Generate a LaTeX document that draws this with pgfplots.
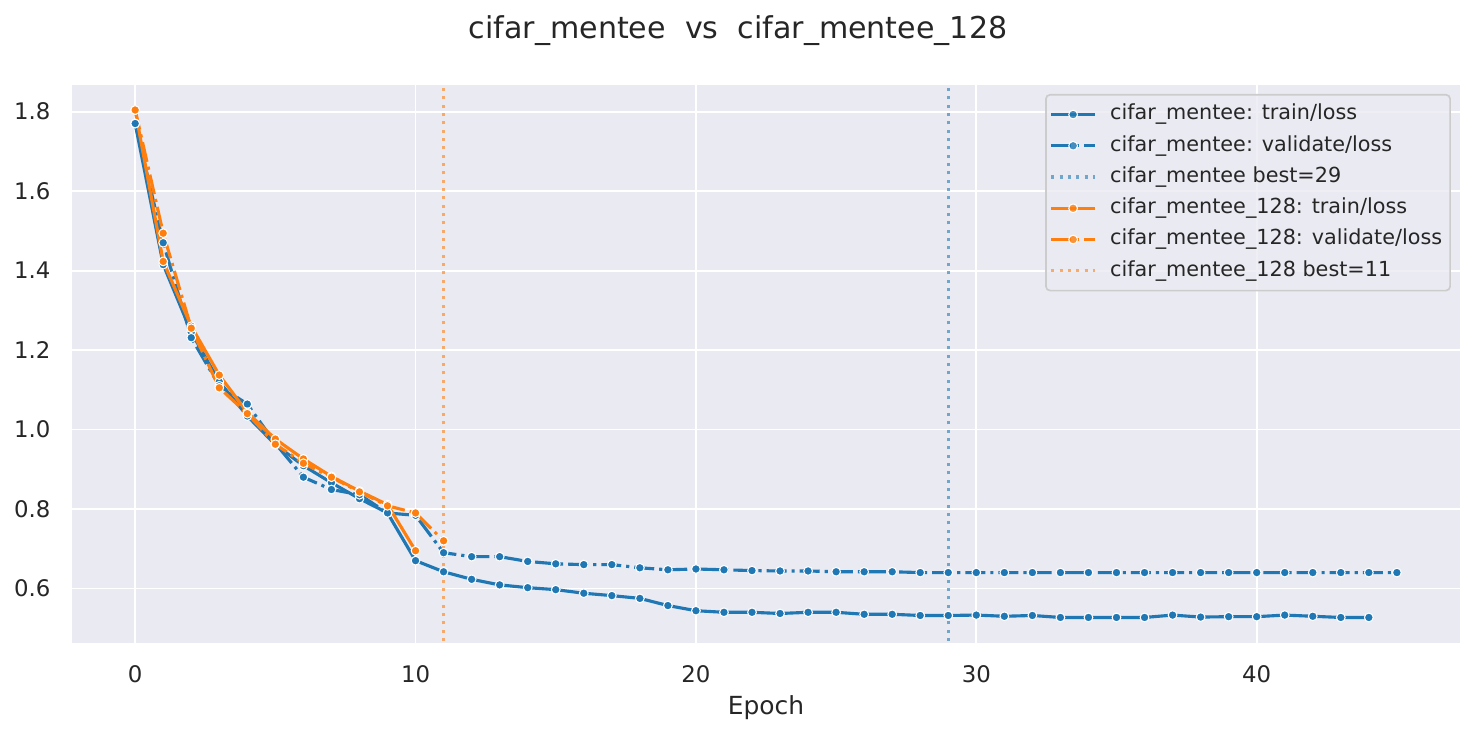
\documentclass[border=0pt]{standalone}
\usepackage{fontspec}
\setmainfont{DejaVu Sans}
\usepackage{pgfplots}
\pgfplotsset{compat=1.18}

\definecolor{sbblue}{HTML}{1F77B4}
\definecolor{sborange}{HTML}{FF7F0E}
\definecolor{sbbg}{HTML}{EAEAF2}
\definecolor{sbtext}{HTML}{262626}
\definecolor{sbedge}{HTML}{CCCCCC}

\pgfplotsset{
  loss/.style={color=#1, line width=1.5bp, mark=*, mark size=2.1bp,
    mark options={solid, draw=white, fill=#1, line width=0.5bp}},
  dashdot/.style={dash pattern=on 9.6bp off 2.4bp on 1.5bp off 2.4bp},
  best/.style={color=#1, line width=1.5bp, opacity=0.6, dash pattern=on 1.5bp off 2.5bp},
}

\pgfplotstableread{
epoch loss
0 1.770
1 1.415
2 1.245
3 1.120
4 1.034
5 0.962
6 0.909
7 0.866
8 0.826
9 0.790
10 0.670
11 0.642
12 0.623
13 0.609
14 0.602
15 0.597
16 0.588
17 0.582
18 0.575
19 0.557
20 0.544
21 0.540
22 0.540
23 0.537
24 0.540
25 0.540
26 0.535
27 0.535
28 0.532
29 0.532
30 0.533
31 0.530
32 0.532
33 0.527
34 0.527
35 0.527
36 0.527
37 0.533
38 0.528
39 0.529
40 0.529
41 0.533
42 0.530
43 0.527
44 0.527
}\menteetrain

\pgfplotstableread{
epoch loss
0 1.770
1 1.470
2 1.231
3 1.110
4 1.064
5 0.965
6 0.880
7 0.849
8 0.836
9 0.790
10 0.784
11 0.690
12 0.680
13 0.680
14 0.668
15 0.662
16 0.660
17 0.660
18 0.652
19 0.647
20 0.649
21 0.647
22 0.645
23 0.644
24 0.644
25 0.642
26 0.642
27 0.642
28 0.640
29 0.640
30 0.640
31 0.640
32 0.640
33 0.640
34 0.640
35 0.640
36 0.640
37 0.640
38 0.640
39 0.640
40 0.640
41 0.640
42 0.640
43 0.640
44 0.640
45 0.640
}\menteeval

\pgfplotstableread{
epoch loss
0 1.804
1 1.423
2 1.260
3 1.137
4 1.043
5 0.976
6 0.926
7 0.882
8 0.845
9 0.811
10 0.695
}\bigtrain

\pgfplotstableread{
epoch loss
0 1.804
1 1.494
2 1.255
3 1.105
4 1.040
5 0.963
6 0.915
7 0.880
8 0.843
9 0.808
10 0.790
11 0.720
}\bigval

\begin{document}
\begin{tikzpicture}
\begin{axis}[
    scale only axis,
    width=666.2bp, height=267.8bp,
    xmin=-2.25, xmax=47.25,
    ymin=0.463, ymax=1.867,
    xtick={0,10,20,30,40},
    ytick={0.6,0.8,1.0,1.2,1.4,1.6,1.8},
    y tick label style={/pgf/number format/fixed, /pgf/number format/fixed zerofill,
      /pgf/number format/precision=1},
    /pgf/number format/assume math mode=true,
    ticklabel style={font=\fontsize{11}{13}\selectfont, text=sbtext},
    xticklabel style={yshift=-7.4bp},
    yticklabel style={xshift=-6.9bp},
    major tick length=0pt,
    axis line style={draw=none},
    axis background/.style={fill=sbbg},
    grid=major,
    major grid style={white, line width=0.9bp},
    xlabel={Epoch},
    xlabel style={at={(axis description cs:0.5,0)}, anchor=north, yshift=-22bp,
      font=\fontsize{12}{14}\selectfont, text=sbtext},
    legend cell align=left,
    legend style={
      at={(0.9935,0.984)}, anchor=north east,
      draw=sbedge, line width=0.8bp, rounded corners=2bp,
      fill=sbbg, fill opacity=0.8, text opacity=1,
      font=\fontsize{10}{12}\selectfont, text=sbtext,
      inner xsep=1.8bp, inner ysep=2bp, row sep=0pt,
      nodes={inner ysep=2.5bp, text height=7.5bp, text depth=2.5bp},
    },
    legend image code/.code={
      \draw[mark repeat=2, mark phase=2] plot coordinates {(0bp,0bp) (10.5bp,0bp) (21bp,0bp)};
      \path (25.5bp,0bp);
    },
]
\addplot[loss=sbblue] table[x=epoch, y=loss] {\menteetrain};
\addlegendentry{cifar\_mentee: train/loss}
\addplot[loss=sbblue, dashdot] table[x=epoch, y=loss] {\menteeval};
\addlegendentry{cifar\_mentee: validate/loss}
\addplot[best=sbblue] coordinates {(29,0.3) (29,2.0)};
\addlegendentry{cifar\_mentee best=29}
\addplot[loss=sborange] table[x=epoch, y=loss] {\bigtrain};
\addlegendentry{cifar\_mentee\_128: train/loss}
\addplot[loss=sborange, dashdot] table[x=epoch, y=loss] {\bigval};
\addlegendentry{cifar\_mentee\_128: validate/loss}
\addplot[best=sborange] coordinates {(11,0.3) (11,2.0)};
\addlegendentry{cifar\_mentee\_128 best=11}
\coordinate (ll) at (rel axis cs:0,0);
\coordinate (ur) at (rel axis cs:1,1);
\end{axis}
\pgfresetboundingbox
\path ([shift={(-34.6bp,-44.2bp)}]ll) rectangle ([shift={(7.7bp,40.8bp)}]ur);
\node[anchor=base, text=sbtext, font=\fontsize{14.5}{17}\selectfont, inner sep=0pt]
  at ([shift={(319.7bp,22.4bp)}]ll |- ur) {cifar\_mentee\ \ vs\ \ cifar\_mentee\_128};
\end{tikzpicture}
\end{document}
